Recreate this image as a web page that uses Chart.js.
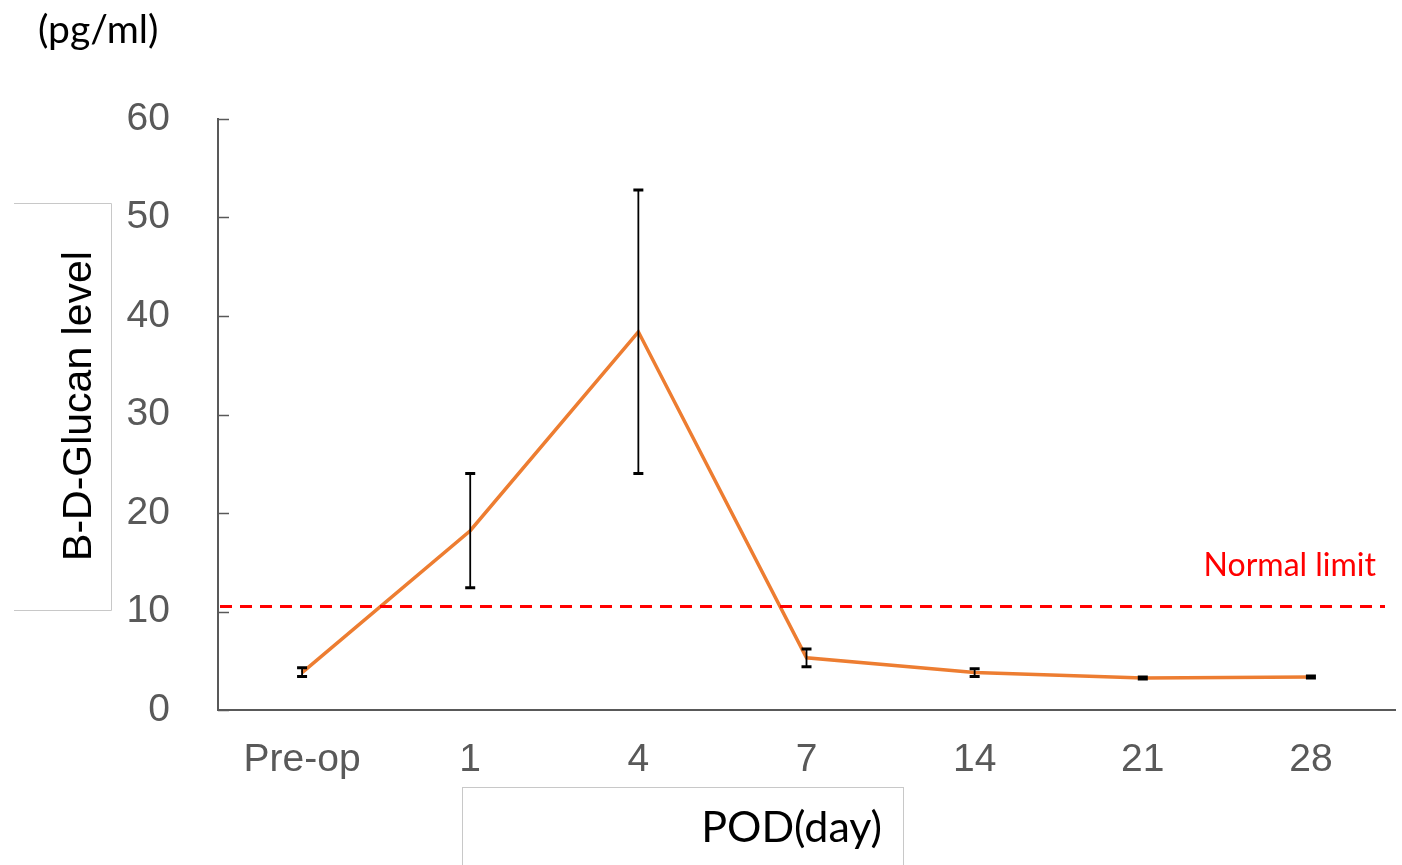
<!DOCTYPE html>
<html>
<head>
<meta charset="utf-8">
<script src="https://cdn.jsdelivr.net/npm/chart.js@4.4.0/dist/chart.umd.min.js"></script>
<style>
  html, body { margin: 0; padding: 0; background: #fff; }
  #wrap { width: 1402px; height: 865px; position: relative; }
</style>
</head>
<body>
<div id="wrap"><canvas id="grafico"></canvas></div>
<script>
// datos
var categorias = ['Pre-op', '1', '4', '7', '14', '21', '28'];
var valores = [3.8, 18.2, 38.4, 5.3, 3.8, 3.25, 3.35];
var errorAlto = [4.3, 24.0, 52.8, 6.2, 4.2, 3.35, 3.45];
var errorBajo = [3.4, 12.4, 24.0, 4.4, 3.4, 3.15, 3.25];
var limiteNormal = 10.5;
var ticksY = [0, 10, 20, 30, 40, 50, 60];

var fuenteCalibri = 'Lato, "Open Sans", sans-serif';
var fuenteArial = '"Liberation Sans", Arial, sans-serif';

var pluginExtras = {
    id: 'extras',
    afterDatasetsDraw: function(chart) {
        var ctx = chart.ctx;
        var x = chart.scales.x, y = chart.scales.y;
        var area = chart.chartArea;
        ctx.save();

        // ticks del eje y hacia adentro
        ctx.strokeStyle = '#595959';
        ctx.lineWidth = 1.5;
        ticksY.forEach(function(t) {
            var py = Math.round(y.getPixelForValue(t)) + 0.5;
            ctx.beginPath();
            ctx.moveTo(area.left, py);
            ctx.lineTo(area.left + 11, py);
            ctx.stroke();
        });

        // linea limite normal
        var yl = y.getPixelForValue(limiteNormal);
        ctx.strokeStyle = '#ff0000';
        ctx.lineWidth = 3;
        ctx.setLineDash([12, 8]);
        ctx.beginPath();
        ctx.moveTo(area.left + 2, yl);
        ctx.lineTo(area.right - 10, yl);
        ctx.stroke();
        ctx.setLineDash([]);

        ctx.fillStyle = '#ff0000';
        ctx.font = '32px ' + fuenteCalibri;
        ctx.textAlign = 'right';
        ctx.textBaseline = 'middle';
        ctx.fillText('Normal limit', 1376, 566);

        // barras de error
        ctx.strokeStyle = '#000';
        for (var i = 0; i < categorias.length; i++) {
            var px = x.getPixelForValue(i);
            var pa = y.getPixelForValue(errorAlto[i]);
            var pb = y.getPixelForValue(errorBajo[i]);
            ctx.lineWidth = 1.8;
            ctx.beginPath();
            ctx.moveTo(px, pa);
            ctx.lineTo(px, pb);
            ctx.stroke();
            ctx.lineWidth = 3;
            ctx.beginPath();
            ctx.moveTo(px - 5, pa);
            ctx.lineTo(px + 5, pa);
            ctx.moveTo(px - 5, pb);
            ctx.lineTo(px + 5, pb);
            ctx.stroke();
        }
        ctx.restore();
    },
    afterDraw: function(chart) {
        var ctx = chart.ctx;
        ctx.save();
        ctx.fillStyle = '#000';

        // unidades
        ctx.font = '39px ' + fuenteCalibri;
        ctx.textAlign = 'left';
        ctx.textBaseline = 'middle';
        ctx.fillText('(pg/ml)', 38, 30);

        // cajas de titulos
        ctx.strokeStyle = '#c8c8c8';
        ctx.lineWidth = 1;
        ctx.beginPath();
        ctx.moveTo(14, 203.5); ctx.lineTo(111.5, 203.5); ctx.lineTo(111.5, 610.5); ctx.lineTo(14, 610.5);
        ctx.stroke();
        ctx.strokeRect(462.5, 787.5, 441, 90);

        // titulo eje y
        ctx.save();
        ctx.translate(80, 406);
        ctx.rotate(-Math.PI / 2);
        ctx.font = '41px ' + fuenteArial;
        ctx.textAlign = 'center';
        ctx.fillText('B-D-Glucan level', 0, 0);
        ctx.restore();

        // titulo eje x
        ctx.font = '43px ' + fuenteCalibri;
        ctx.textAlign = 'right';
        ctx.fillText('POD(day)', 882, 828);
        ctx.restore();
    }
};

var ctx = document.getElementById('grafico').getContext('2d');
new Chart(ctx, {
    type: 'line',
    data: {
        labels: categorias,
        datasets: [{
            label: 'B-D-Glucan',
            data: valores,
            borderColor: '#ED7D31',
            borderWidth: 3.5,
            pointRadius: 0,
            tension: 0,
            fill: false
        }]
    },
    options: {
        responsive: true,
        maintainAspectRatio: false,
        animation: false,
        layout: { padding: { top: 119, right: 7, left: 0, bottom: 0 } },
        plugins: {
            legend: { display: false },
            tooltip: { enabled: false }
        },
        scales: {
            x: {
                offset: true,
                grid: { display: false, drawTicks: false },
                border: { display: true, color: '#595959', width: 2 },
                ticks: {
                    color: '#595959',
                    font: { family: fuenteArial, size: 39 },
                    padding: 27,
                    maxRotation: 0
                },
                afterFit: function(scale) { scale.height = 155; }
            },
            y: {
                min: 0,
                max: 60,
                afterBuildTicks: function(scale) {
                    scale.ticks = ticksY.map(function(v) { return { value: v }; });
                },
                grid: { display: false, drawTicks: false },
                border: { display: true, color: '#595959', width: 2 },
                ticks: {
                    color: '#595959',
                    font: { family: fuenteArial, size: 39 },
                    padding: 48
                },
                afterFit: function(scale) { scale.width = 218; }
            }
        }
    },
    plugins: [pluginExtras]
});
</script>
</body>
</html>
